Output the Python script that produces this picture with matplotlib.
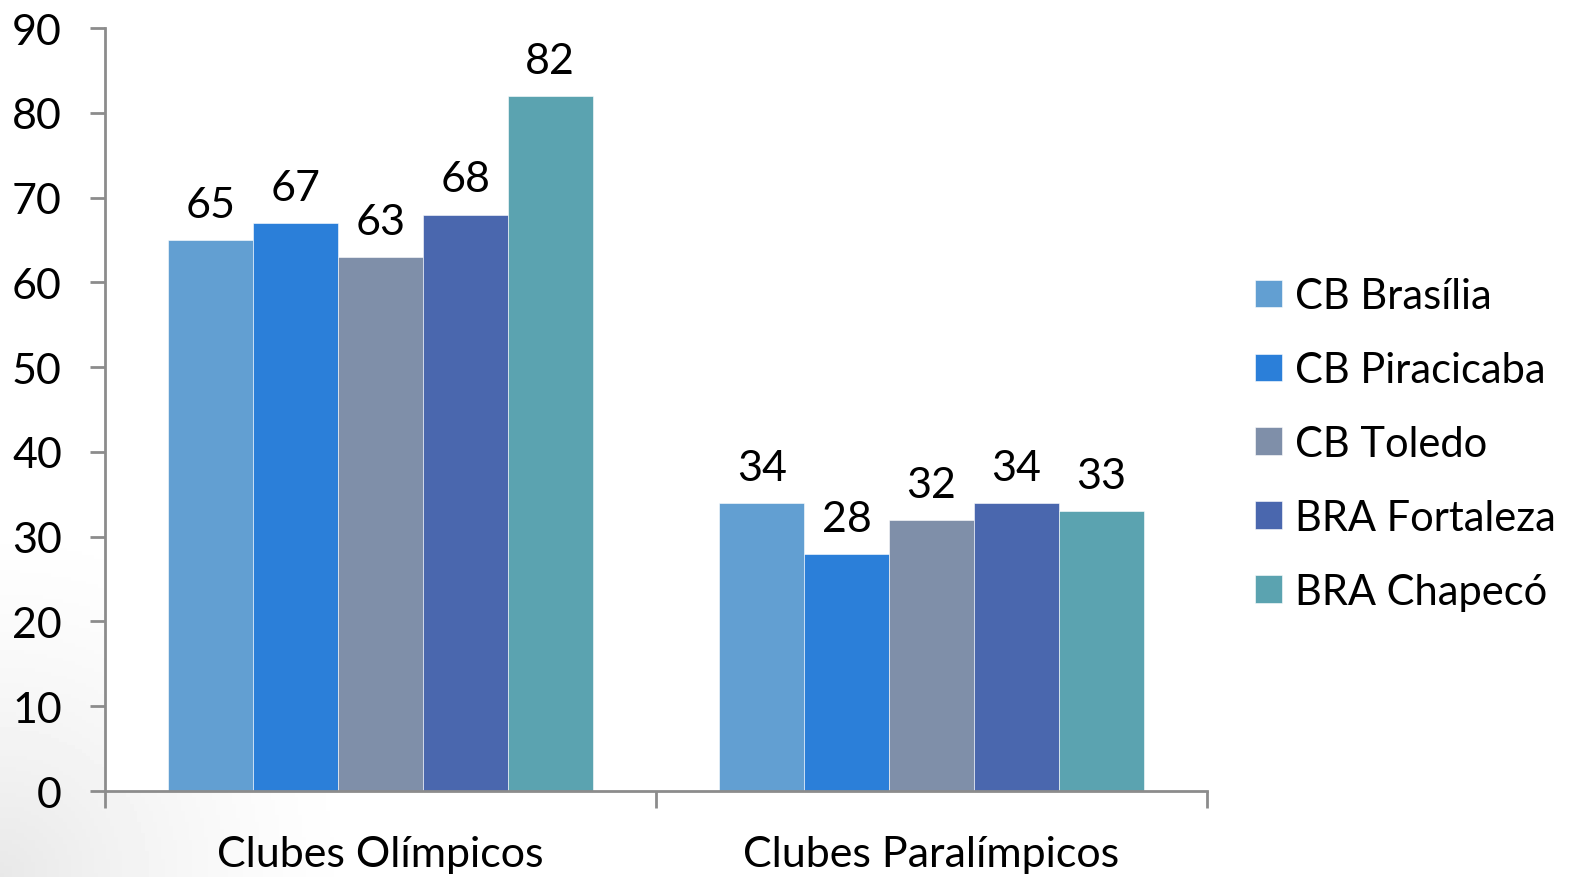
import numpy as np
import matplotlib.pyplot as plt

categories = ["Clubes Olímpicos", "Clubes Paralímpicos"]
series = ["CB Brasília", "CB Piracicaba", "CB Toledo", "BRA Fortaleza", "BRA Chapecó"]
values = [
    [65, 34],
    [67, 28],
    [63, 32],
    [68, 34],
    [82, 33],
]
colors = ["#629FD2", "#2B7FD9", "#7F8FA9", "#4A67AE", "#5BA3B0"]
y_ticks = list(range(0, 91, 10))

plt.rcParams["font.family"] = ["Lato", "DejaVu Sans"]

fig = plt.figure(figsize=(15.71, 8.78), dpi=100)

# faint grey shading in the lower-left corner of the slide
bg = fig.add_axes([0, 0, 1, 1], zorder=-10)
gx, gy = np.meshgrid(np.linspace(0, 1571, 400), np.linspace(0, 878, 240))
dist = np.hypot(gx, gy)
shade = 1 - 0.09 * np.clip(1 - dist / 380, 0, 1) ** 1.5
bg.imshow(shade, cmap="gray", vmin=0, vmax=1, origin="lower",
          extent=[0, 1, 0, 1], aspect="auto")
bg.axis("off")

ax = fig.add_axes([0.0668, 0.0979, 0.7015, 0.869])
ax.set_facecolor("white")

x = np.arange(len(categories))
width = 0.154
n = len(series)
for i, (name, vals) in enumerate(zip(series, values)):
    pos = x + (i - (n - 1) / 2) * width
    bars = ax.bar(pos, vals, width, color=colors[i], label=name,
                  edgecolor="white", linewidth=0.4)
    for b, v in zip(bars, vals):
        ax.text(b.get_x() + b.get_width() / 2, v + 1.9, str(v),
                ha="center", va="bottom", fontsize=31)

ax.set_xlim(-0.5, 1.5)
ax.set_ylim(0, 90)
ax.set_yticks(y_ticks)
ax.tick_params(axis="y", labelsize=31, length=11, width=2, color="#8c8c8c", pad=20)

# category labels between boundary ticks
ax.set_xticks([-0.5, 0.5, 1.5])
ax.set_xticklabels([])
ax.set_xticks(x, minor=True)
ax.set_xticklabels(categories, minor=True, fontsize=31)
ax.tick_params(axis="x", which="major", length=12, width=2, color="#8c8c8c")
ax.tick_params(axis="x", which="minor", length=0, pad=32)

for s in ["top", "right"]:
    ax.spines[s].set_visible(False)
for s in ["left", "bottom"]:
    ax.spines[s].set_color("#8c8c8c")
    ax.spines[s].set_linewidth(2)

ax.legend(loc="center left", bbox_to_anchor=(1.044, 0.455), frameon=False,
          fontsize=30, handlelength=0.64, handleheight=0.64, handletextpad=0.3,
          labelspacing=0.86, borderpad=0, borderaxespad=0)

fig.savefig("out.png", dpi=100)
